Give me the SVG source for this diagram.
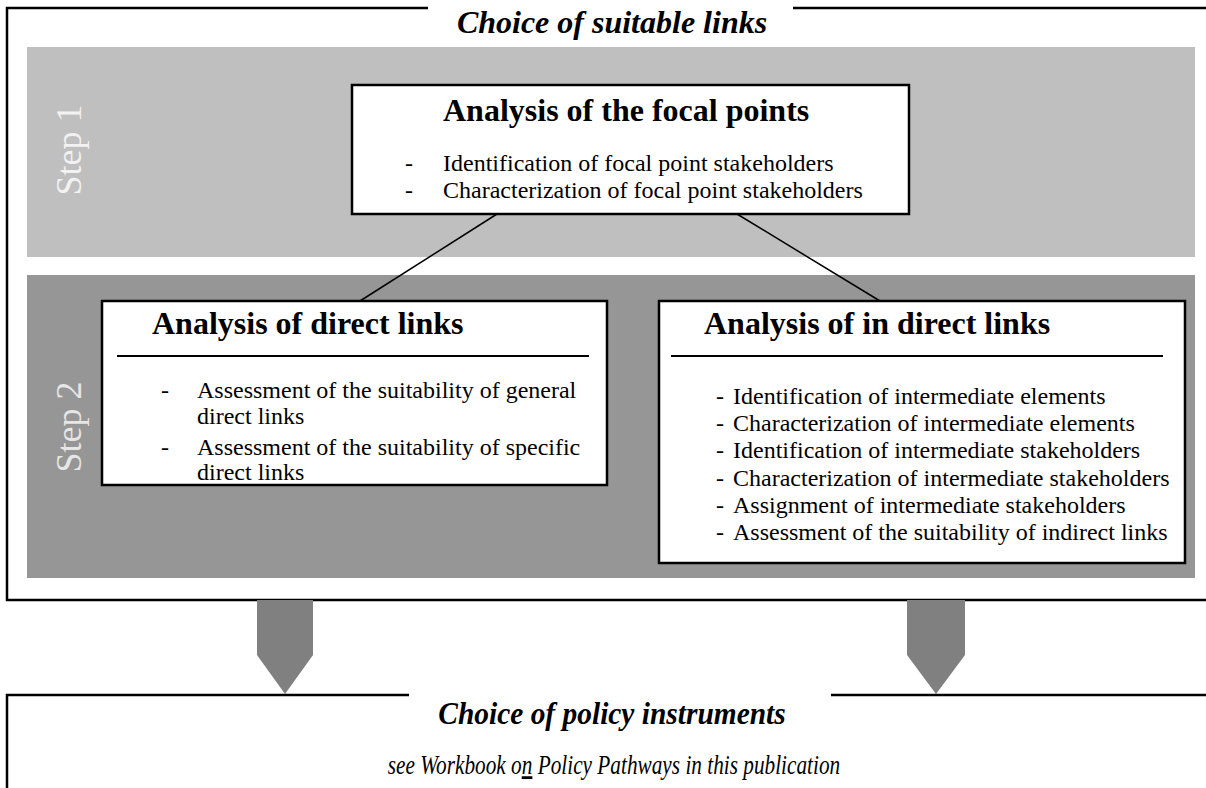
<svg xmlns="http://www.w3.org/2000/svg" width="1206" height="788" viewBox="0 0 1206 788">
<style>
.frame{stroke:#000;stroke-width:2.5;fill:none}
.box{fill:#fff;stroke:#000;stroke-width:2.5}
.sep{stroke:#000;stroke-width:2}
.con{stroke:#000;stroke-width:1.5}
.arrow{fill:#808080}
.ttl{font-family:"Liberation Serif",serif;font-weight:bold;font-style:italic;fill:#000}
.sub{font-family:"Liberation Serif",serif;font-style:italic;fill:#000}
.head{font-family:"Liberation Serif",serif;font-weight:bold;font-size:32px;fill:#000}
.txt{font-family:"Liberation Serif",serif;font-size:24px;fill:#000}
.step{font-family:"Liberation Serif",serif;font-size:36px}
</style>
<rect width="1206" height="788" fill="#fff"/>
<g id="frame-top">
<path class="frame" d="M428,8 H7 V600 H1206 M793,8 H1206"/>
<text class="ttl" x="612" y="33" font-size="32" text-anchor="middle">Choice of suitable links</text>
</g>
<g id="step1">
<rect x="27" y="47" width="1168" height="210" fill="#bfbfbf"/>
<text class="step" fill="#f2f2f2" transform="translate(81,150) rotate(-90)" text-anchor="middle">Step 1</text>
</g>
<g id="step2">
<rect x="27" y="275" width="1168" height="303" fill="#969696"/>
<text class="step" fill="#e6e6e6" transform="translate(81,427) rotate(-90)" text-anchor="middle">Step 2</text>
</g>
<g id="connectors">
<line class="con" x1="497" y1="214" x2="360" y2="301"/>
<line class="con" x1="737" y1="214" x2="880" y2="301"/>
<polygon class="arrow" points="257,600 313,600 313,655 285,694 257,655"/>
<polygon class="arrow" points="907,600 965,600 965,655 936,694 907,655"/>
</g>
<g id="focal">
<rect class="box" x="352" y="85" width="557" height="129"/>
<text class="head" x="443" y="121" font-size="30">Analysis of the focal points</text>
<text class="txt" x="405" y="171">-</text>
<text class="txt" x="443" y="171">Identification of focal point stakeholders</text>
<text class="txt" x="405" y="198">-</text>
<text class="txt" x="443" y="198">Characterization of focal point stakeholders</text>
</g>
<g id="direct">
<rect class="box" x="102" y="301" width="505" height="184"/>
<text class="head" x="152" y="334">Analysis of direct links</text>
<line class="sep" x1="117" y1="356" x2="589" y2="356"/>
<text class="txt" x="161" y="398">-</text>
<text class="txt" x="197" y="398">Assessment of the suitability of general</text>
<text class="txt" x="197" y="424">direct links</text>
<text class="txt" x="161" y="455">-</text>
<text class="txt" x="197" y="455">Assessment of the suitability of specific</text>
<text class="txt" x="197" y="480">direct links</text>
</g>
<g id="indirect">
<rect class="box" x="659" y="301" width="526" height="262"/>
<text class="head" x="704" y="334">Analysis of in direct links</text>
<line class="sep" x1="671" y1="356" x2="1163" y2="356"/>
<text class="txt" x="716" y="404">-</text>
<text class="txt" x="733" y="404">Identification of intermediate elements</text>
<text class="txt" x="716" y="431">-</text>
<text class="txt" x="733" y="431">Characterization of intermediate elements</text>
<text class="txt" x="716" y="458">-</text>
<text class="txt" x="733" y="458">Identification of intermediate stakeholders</text>
<text class="txt" x="716" y="486">-</text>
<text class="txt" x="733" y="486">Characterization of intermediate stakeholders</text>
<text class="txt" x="716" y="513">-</text>
<text class="txt" x="733" y="513">Assignment of intermediate stakeholders</text>
<text class="txt" x="716" y="540">-</text>
<text class="txt" x="733" y="540">Assessment of the suitability of indirect links</text>
</g>
<g id="frame-bottom">
<path class="frame" d="M409,695 H7 V788 M831,695 H1206"/>
<text class="ttl" transform="translate(612,724) scale(0.92,1)" font-size="32" text-anchor="middle">Choice of policy instruments</text>
<text class="sub" transform="translate(614,774) scale(0.76,1)" font-size="28" text-anchor="middle">see Workbook o<tspan text-decoration="underline">n</tspan> Policy Pathways in this publication</text>
</g>
</svg>
